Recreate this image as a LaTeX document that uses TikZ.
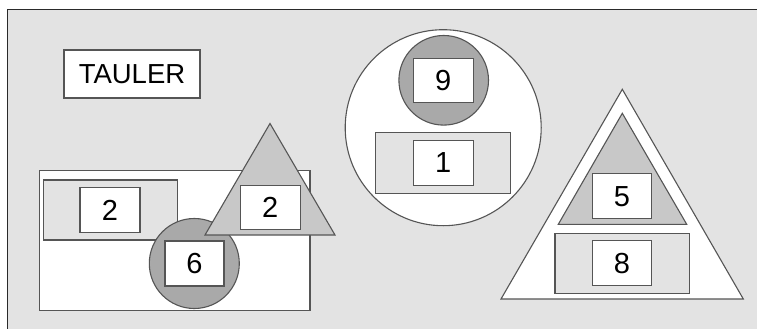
\documentclass[tikz,border=0pt]{standalone}
\usepackage{fontspec}
\setmainfont{Liberation Sans}
\begin{document}
\begin{tikzpicture}[x=1pt,y=-1pt,
  edge/.style={draw=linegray,line width=1.1pt,line join=miter},
  numbox/.style={edge,fill=white},
  panel/.style={edge,fill=bggray},
  digit/.style={font=\fontsize{29}{29}\selectfont,text=black}]
\definecolor{bggray}{HTML}{E3E3E3}
\definecolor{lightfill}{HTML}{C8C8C8}
\definecolor{darkfill}{HTML}{A9A9A9}
\definecolor{linegray}{HTML}{555555}
\definecolor{framegray}{HTML}{2A2A2A}
\useasboundingbox (0,0) rectangle (757,329);
% page background
\fill[white] (0,0) rectangle (757,329);
\fill[bggray] (7.5,9.5) rectangle (757,329);
\draw[framegray,line width=1.8pt] (7.5,329) -- (7.5,9.5) -- (757,9.5);

% title
\node[numbox,minimum width=136pt,minimum height=48pt,inner sep=0pt,
  font=\fontsize{27.5}{27.5}\selectfont] (title) at (132,74) {TAULER};

% left group: rectangle with panel, circle and triangle
\draw[numbox] (39.5,170.5) rectangle (310,310.5);
\draw[panel] (43.5,180) rectangle (177.5,240);
\node[numbox,minimum width=60pt,minimum height=45pt,inner sep=0pt,digit] (a2) at (110,210) {2};
\draw[edge,fill=darkfill] (194.3,263.5) circle (45);
\draw[edge,fill=lightfill] (270,123.5) -- (335,235) -- (205,235) -- cycle;
\node[numbox,minimum width=60pt,minimum height=44pt,inner sep=0pt,digit] (b2) at (270.3,207.2) {2};
\node[numbox,minimum width=59pt,minimum height=45pt,inner sep=0pt,digit] (c6) at (194.5,263.5) {6};

% middle group: big circle
\draw[numbox] (443.2,127.7) circle (98);
\draw[edge,fill=darkfill] (443.7,80.3) circle (44.8);
\node[numbox,minimum width=60pt,minimum height=44pt,inner sep=0pt,digit] (d9) at (443.3,80.5) {9};
\draw[panel] (375.7,132.3) rectangle (510.7,193.3);
\node[numbox,minimum width=60pt,minimum height=45pt,inner sep=0pt,digit] (e1) at (443.3,162.8) {1};

% right group: big triangle
\draw[numbox] (622.3,89.3) -- (743.3,299) -- (501,299) -- cycle;
\draw[edge,fill=lightfill] (622.3,113.3) -- (686.7,224.3) -- (558.3,224.3) -- cycle;
\node[numbox,minimum width=59pt,minimum height=45pt,inner sep=0pt,digit] (f5) at (622,196.2) {5};
\draw[panel] (555,233.3) rectangle (689.3,293.3);
\node[numbox,minimum width=59pt,minimum height=45pt,inner sep=0pt,digit] (g8) at (622,263.2) {8};
\end{tikzpicture}
\end{document}
